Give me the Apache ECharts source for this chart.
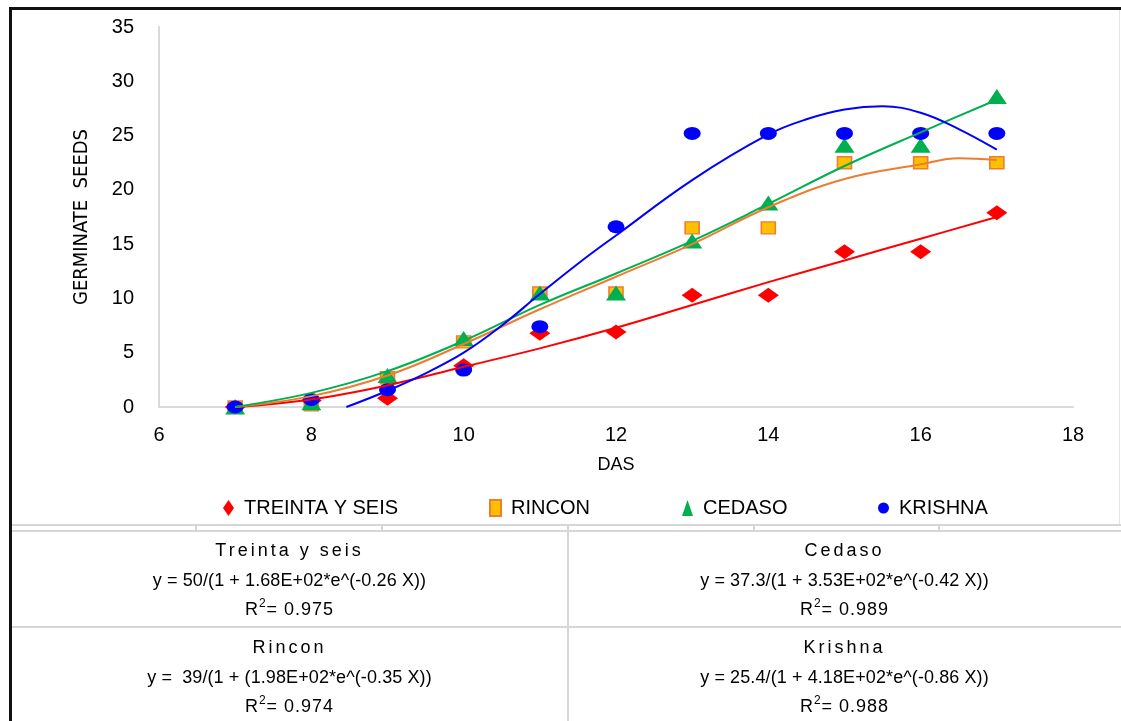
<!DOCTYPE html>
<html><head><meta charset="utf-8">
<script src="https://cdn.jsdelivr.net/npm/echarts@6/dist/echarts.min.js"></script>
<style>
body{margin:0;background:#fff;}
#chart{position:absolute;left:0;top:0;width:1121px;height:721px;}
.hl{position:absolute;height:2px;background:#d6d6d6;}
.vl{position:absolute;width:2px;background:#d6d6d6;}
.frameL{position:absolute;left:9px;top:7px;width:3px;height:714px;background:#111;}
.frameT{position:absolute;left:9px;top:7px;width:1112px;height:3px;background:#111;}
.frameR{position:absolute;left:1119px;top:10px;width:1px;height:515px;background:#e4e4e4;}
.cell{position:absolute;width:555px;text-align:center;font-family:"Liberation Sans",Arial,sans-serif;font-size:18px;color:#000;line-height:29.5px;letter-spacing:0.1px;}
.cell .nm{letter-spacing:3px;}
.cell .r2{letter-spacing:1px;}
.cell sup{font-size:12px;line-height:0;position:relative;top:-1px;}
</style></head>
<body>
<div id="chart"></div>
<div class="frameL"></div><div class="frameT"></div><div class="frameR"></div>
<div class="hl" style="left:12px;top:524px;width:1109px;"></div>
<div class="hl" style="left:12px;top:530px;width:1109px;"></div>
<div class="vl" style="left:195px;top:524px;height:7px;"></div>
<div class="vl" style="left:381px;top:524px;height:7px;"></div>
<div class="vl" style="left:567px;top:524px;height:197px;"></div>
<div class="vl" style="left:753px;top:524px;height:7px;"></div>
<div class="vl" style="left:938px;top:524px;height:7px;"></div>
<div class="hl" style="left:12px;top:626px;width:1109px;"></div>
<div id="table"></div>
<script>
// ---- data ----
const days = [7, 8, 9, 10, 11, 12, 13, 14, 15, 16, 17];
const treintaYSeis = [0, 0.6, 0.8, 3.8, 6.8, 6.9, 10.3, 10.3, 14.3, 14.3, 17.9];
const rincon       = [0, 0.2, 2.7, 6.0, 10.5, 10.5, 16.5, 16.5, 22.5, 22.5, 22.5];
const cedaso       = [0, 0.4, 2.9, 6.3, 10.5, 10.5, 15.3, 18.8, 24.1, 24.1, 28.6];
const krishna      = [0, 0.7, 1.6, 3.4, 7.4, 16.6, 25.2, 25.2, 25.2, 25.2, 25.2];

// fitted trend curves
const fitTreintaX = [7, 8, 9, 10, 11, 12, 13, 14, 15, 16, 17];
const fitTreintaY = [0, 0.7, 2.0, 3.7, 5.4, 7.3, 9.4, 11.5, 13.5, 15.5, 17.5];
const fitRinconX  = [7, 8, 9, 10, 11, 12, 13, 14, 15, 16, 16.5, 17];
const fitRinconY  = [0, 1.0, 2.9, 5.8, 9.0, 12.0, 15.0, 18.4, 21.0, 22.35, 22.9, 22.75];
const fitCedasoX  = [7, 8, 9, 10, 11, 12, 13, 14, 15, 16, 17];
const fitCedasoY  = [0, 1.3, 3.3, 6.1, 9.4, 12.3, 15.3, 18.7, 22.2, 25.3, 28.3];
const fitKrishnaX = [8.46, 9, 9.5, 10, 10.5, 11, 11.5, 12, 13, 14, 14.5, 15, 15.5, 16, 16.5, 17];
const fitKrishnaY = [0, 1.5, 3.1, 5.0, 7.5, 10.4, 13.2, 15.8, 20.9, 25.1, 26.5, 27.4, 27.7, 27.1, 25.6, 23.7];

const xTicks = {min: 6, max: 18, interval: 2};
const yTicks = {min: 0, max: 35, interval: 5};

const seriesNames = ['TREINTA Y SEIS', 'RINCON', 'CEDASO', 'KRISHNA'];
const tableCells = [
  {name: 'Treinta y seis', eq: 'y = 50/(1 + 1.68E+02*e^(-0.26 X))', r2: '0.975'},
  {name: 'Cedaso', eq: 'y = 37.3/(1 + 3.53E+02*e^(-0.42 X))', r2: '0.989'},
  {name: 'Rincon', eq: 'y =&nbsp; 39/(1 + (1.98E+02*e^(-0.35 X))', r2: '0.974'},
  {name: 'Krishna', eq: 'y = 25.4/(1 + 4.18E+02*e^(-0.86 X))', r2: '0.988'}
];

// ---- table (text) ----
const cellPos = [[12, 536], [567, 536], [12, 633], [567, 633]];
const tbl = document.getElementById('table');
tableCells.forEach((c, i) => {
  const d = document.createElement('div');
  d.className = 'cell';
  d.style.left = cellPos[i][0] + 'px';
  d.style.top = cellPos[i][1] + 'px';
  d.innerHTML = '<div class="nm">' + c.name + '</div><div>' + c.eq + '</div><div class="r2">R<sup>2</sup>= ' + c.r2 + '</div>';
  tbl.appendChild(d);
});

const zip = (xs, ys) => xs.map((x, i) => [x, ys[i]]);
const colors = ['#FF0000', '#ED7D31', '#00B050', '#0000FF'];
const fontF = '"Liberation Sans", Arial, sans-serif';
const narrowF = '"Liberation Sans Narrow", "DejaVu Sans Condensed", "Liberation Sans", sans-serif';

const chart = echarts.init(document.getElementById('chart'));
const legendLefts = [218, 484, 677, 873];
chart.setOption({
  animation: false,
  backgroundColor: 'transparent',
  grid: {left: 159, top: 27, right: 48, bottom: 314, containLabel: false},
  legend: seriesNames.map((n, i) => ({
    data: [n], left: legendLefts[i], top: 493, itemWidth: 11, itemHeight: 16, itemGap: 4,
    textStyle: {fontFamily: fontF, fontSize: 20, color: '#000', padding: [0, 0, 0, 5]}
  })),
  xAxis: {
    type: 'value', min: xTicks.min, max: xTicks.max, interval: xTicks.interval,
    name: 'DAS', nameLocation: 'middle', nameGap: 49,
    nameTextStyle: {fontFamily: fontF, fontSize: 18, color: '#000'},
    axisLine: {show: true, lineStyle: {color: '#d9d9d9', width: 2}},
    axisTick: {show: false}, splitLine: {show: false},
    axisLabel: {fontFamily: fontF, fontSize: 20, color: '#000', margin: 18}
  },
  yAxis: {
    type: 'value', min: yTicks.min, max: yTicks.max, interval: yTicks.interval,
    name: 'GERMINATE  SEEDS', nameLocation: 'middle', nameGap: 67, nameRotate: 90,
    nameTextStyle: {fontFamily: narrowF, fontSize: 20, color: '#000'},
    axisLine: {show: true, lineStyle: {color: '#d9d9d9', width: 2}},
    axisTick: {show: false}, splitLine: {show: false},
    axisLabel: {fontFamily: fontF, fontSize: 20, color: '#000', margin: 25}
  },
  series: [
    {name: seriesNames[0], type: 'scatter', data: zip(days, treintaYSeis), symbol: 'diamond', symbolSize: [21, 15], itemStyle: {color: colors[0], opacity: 1}, z: 2},
    {name: seriesNames[1], type: 'scatter', data: zip(days, rincon), symbol: 'rect', symbolSize: [14, 12], itemStyle: {color: '#FFC000', borderColor: colors[1], borderWidth: 1.5, opacity: 1}, z: 2},
    {name: seriesNames[2], type: 'scatter', data: zip(days, cedaso), symbol: 'triangle', symbolSize: [20, 15], itemStyle: {color: colors[2], opacity: 1}, z: 2},
    {name: seriesNames[3], type: 'scatter', data: zip(days, krishna), symbol: 'circle', symbolSize: [17, 13], itemStyle: {color: colors[3], opacity: 1}, z: 2},
    {name: 'fit1', type: 'line', data: zip(fitTreintaX, fitTreintaY), smooth: 0.4, showSymbol: false, lineStyle: {color: colors[0], width: 2}, z: 3},
    {name: 'fit2', type: 'line', data: zip(fitRinconX, fitRinconY), smooth: 0.4, showSymbol: false, lineStyle: {color: colors[1], width: 2}, z: 3},
    {name: 'fit3', type: 'line', data: zip(fitCedasoX, fitCedasoY), smooth: 0.4, showSymbol: false, lineStyle: {color: colors[2], width: 2}, z: 3},
    {name: 'fit4', type: 'line', data: zip(fitKrishnaX, fitKrishnaY), smooth: 0.4, showSymbol: false, lineStyle: {color: colors[3], width: 2}, z: 3}
  ]
});
</script>
</body></html>
